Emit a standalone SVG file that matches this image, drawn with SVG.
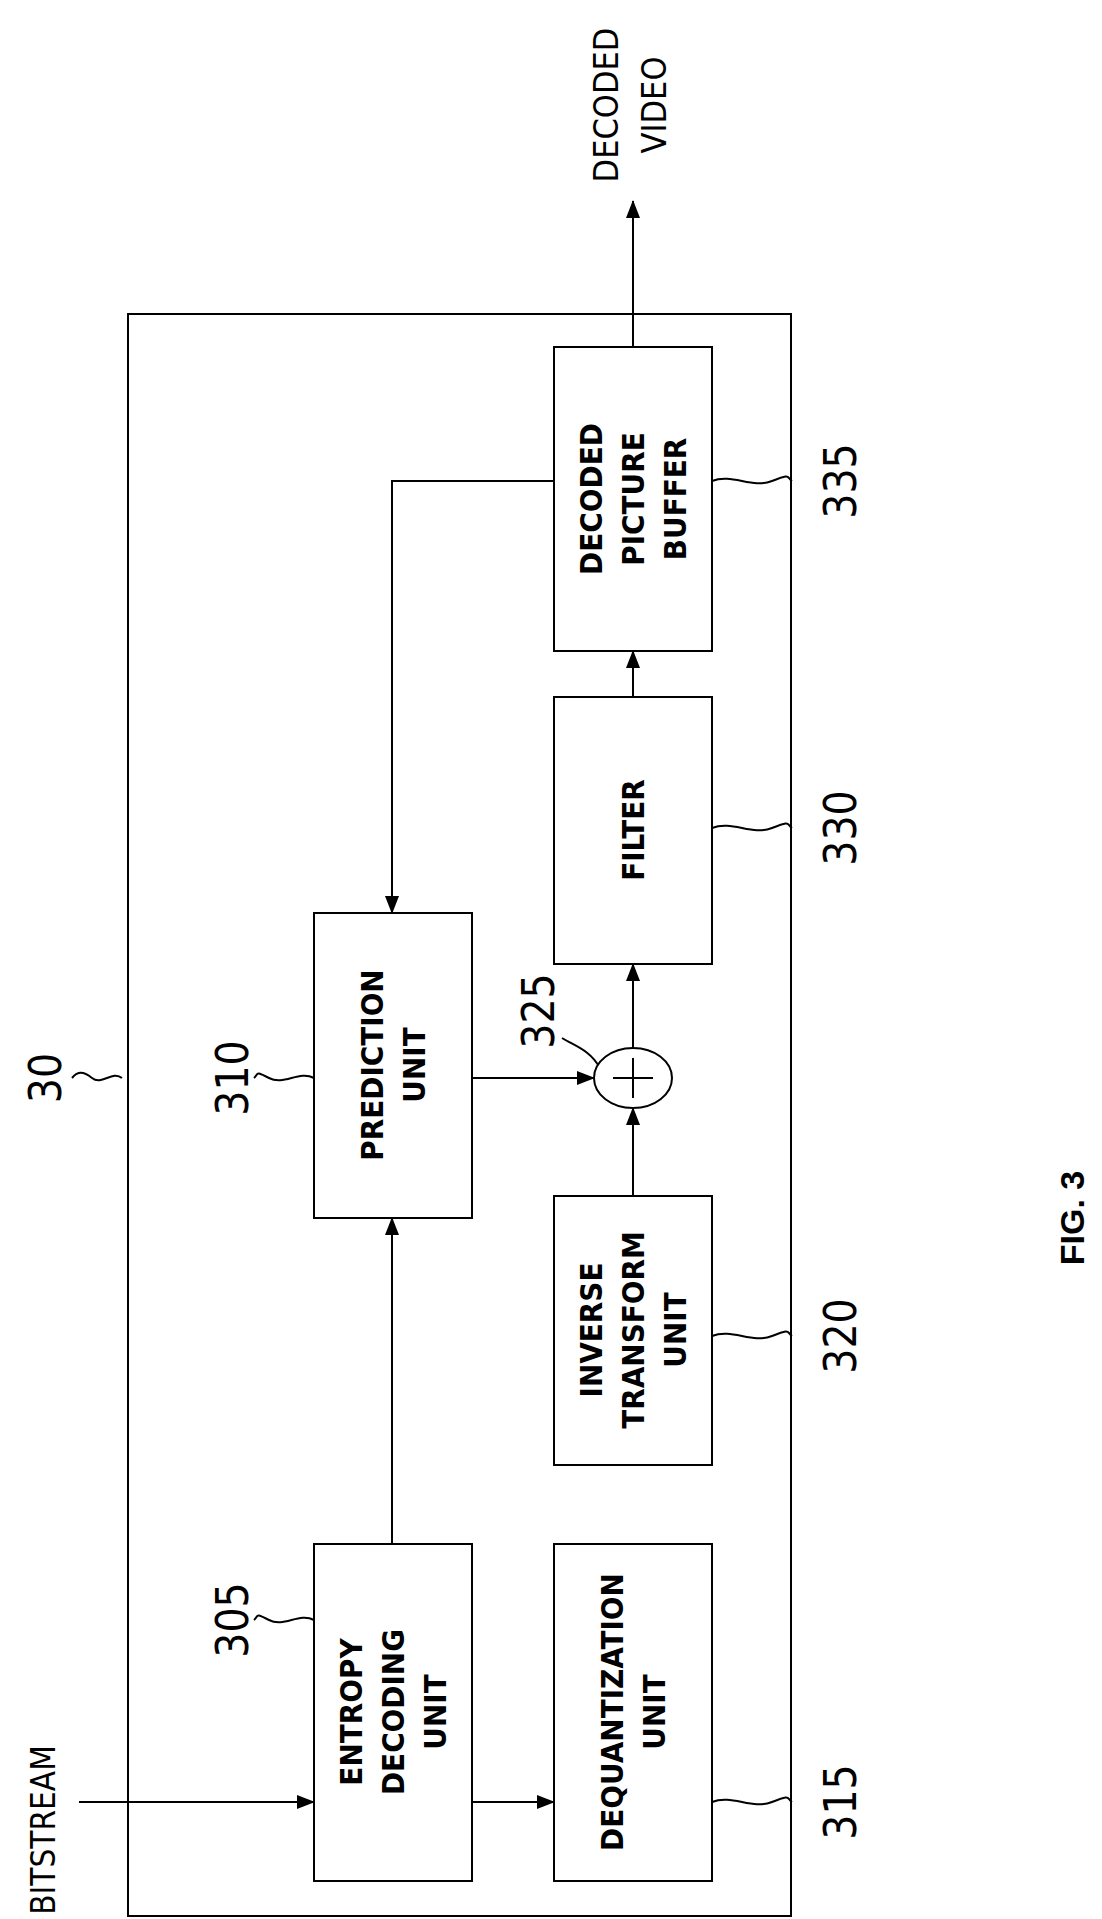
<svg xmlns="http://www.w3.org/2000/svg" width="1102" height="1919" viewBox="0 0 1102 1919">
<style>
.b{fill:#fff;stroke:#000;stroke-width:2}
.c{fill:none;stroke:#000;stroke-width:2}
.t{font-family:"DejaVu Sans Condensed","Liberation Sans",sans-serif;font-size:31px;font-weight:bold;text-anchor:middle;dominant-baseline:central}
.n{font-family:"DejaVu Sans Condensed","Liberation Sans",sans-serif;font-size:44px;text-anchor:middle;dominant-baseline:central}
</style>
<defs><marker id="m" markerWidth="18" markerHeight="18" refX="17" refY="9" orient="auto" markerUnits="userSpaceOnUse" viewBox="0 0 18 18"><path d="M0 2L18 9L0 16z"/></marker></defs>
<rect id="box30" class="b" x="128" y="314" width="663" height="1602"/>
<g id="connectors" class="c">
<path d="M79 1802H314" marker-end="url(#m)"/>
<path d="M472 1802H554" marker-end="url(#m)"/>
<path d="M392 1544V1218" marker-end="url(#m)"/>
<path d="M554 481H392V913" marker-end="url(#m)"/>
<path d="M472 1078H594" marker-end="url(#m)"/>
<path d="M633 1196V1108" marker-end="url(#m)"/>
<path d="M633 1048V964" marker-end="url(#m)"/>
<path d="M633 697V651" marker-end="url(#m)"/>
<path d="M633 347V201" marker-end="url(#m)"/>
<path d="M122 1078c-10-8-20 8-30 0s-15-6-20 0"/>
<path d="M314 1078c-15-8-30 8-45 0s-10-4-15 0"/>
<path d="M314 1620c-15-8-30 8-45 0s-10-4-15 0"/>
<path d="M712 1802c20 -8 40 8 60 0s14-4 20 0"/>
<path d="M712 1336c20 -8 40 8 60 0s14-4 20 0"/>
<path d="M712 828c20 -8 40 8 60 0s14-4 20 0"/>
<path d="M712 481c20 -8 40 8 60 0s14-4 20 0"/>
<path d="M600 1068c-10-18-25-22-38-30"/>
</g>
<g id="n305"><rect class="b" x="314" y="1544" width="158" height="337"/><text class="t" transform="translate(393 1712) rotate(-90)"><tspan x="0" y="-42">ENTROPY</tspan><tspan x="0" y="0">DECODING</tspan><tspan x="0" y="42">UNIT</tspan></text></g>
<g id="n310"><rect class="b" x="314" y="913" width="158" height="305"/><text class="t" transform="translate(393 1065) rotate(-90)"><tspan x="0" y="-21">PREDICTION</tspan><tspan x="0" y="21">UNIT</tspan></text></g>
<g id="n315"><rect class="b" x="554" y="1544" width="158" height="337"/><text class="t" transform="translate(633 1712) rotate(-90)"><tspan x="0" y="-21">DEQUANTIZATION</tspan><tspan x="0" y="21">UNIT</tspan></text></g>
<g id="n320"><rect class="b" x="554" y="1196" width="158" height="269"/><text class="t" transform="translate(633 1330) rotate(-90)"><tspan x="0" y="-42">INVERSE</tspan><tspan x="0" y="0">TRANSFORM</tspan><tspan x="0" y="42">UNIT</tspan></text></g>
<g id="n325"><ellipse class="b" cx="633" cy="1078" rx="39" ry="30"/><path class="c" d="M633 1058V1098M613 1078H653"/></g>
<g id="n330"><rect class="b" x="554" y="697" width="158" height="267"/><text class="t" transform="translate(633 830) rotate(-90)">FILTER</text></g>
<g id="n335"><rect class="b" x="554" y="347" width="158" height="304"/><text class="t" transform="translate(633 499) rotate(-90)"><tspan x="0" y="-42">DECODED</tspan><tspan x="0" y="0">PICTURE</tspan><tspan x="0" y="42">BUFFER</tspan></text></g>
<g id="labels">
<text class="t" style="font-size:33px;font-weight:normal" transform="translate(43 1830) rotate(-90)">BITSTREAM</text>
<text class="t" style="font-size:34px;font-weight:normal" transform="translate(630 105) rotate(-90)"><tspan x="0" y="-24">DECODED</tspan><tspan x="0" y="24">VIDEO</tspan></text>
<text class="n" transform="translate(45 1078) rotate(-90)">30</text>
<text class="n" transform="translate(232 1078) rotate(-90)">310</text>
<text class="n" transform="translate(232 1620) rotate(-90)">305</text>
<text class="n" transform="translate(538 1011) rotate(-90)">325</text>
<text class="n" transform="translate(840 1802) rotate(-90)">315</text>
<text class="n" transform="translate(840 1336) rotate(-90)">320</text>
<text class="n" transform="translate(840 828) rotate(-90)">330</text>
<text class="n" transform="translate(840 481) rotate(-90)">335</text>
<text class="n" style="font-family:'Liberation Sans',sans-serif;font-weight:bold;font-size:34px" transform="translate(1072 1218) rotate(-90)">FIG. 3</text>
</g>
</svg>
